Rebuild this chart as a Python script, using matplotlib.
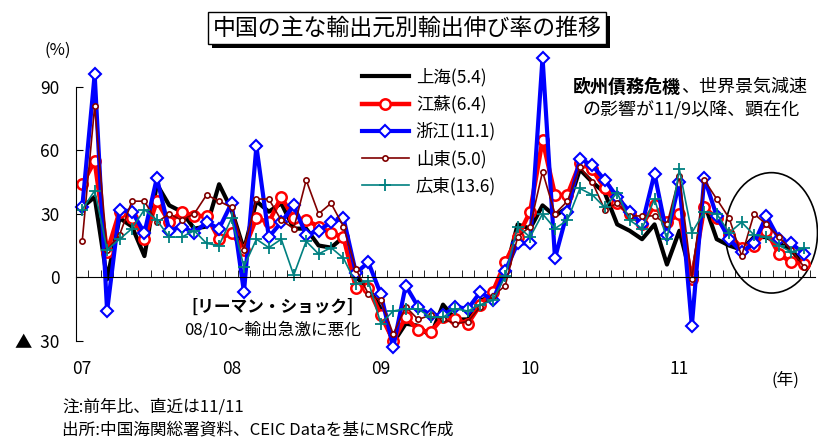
import numpy as np
import matplotlib.pyplot as plt
import matplotlib.patheffects as pe
from matplotlib.patches import Ellipse

plt.rcParams['font.family'] = ['Noto Sans CJK JP', 'DejaVu Sans']

W, H = 818, 442


def fx(px):
    return px / W


def fy(py):
    return 1 - py / H


# monthly, 2007/01 - 2011/11 (y/y %)
SHANGHAI = [33, 38, -1, 28, 24, 10, 44, 34, 31, 23, 24, 44,
            32, 13, 36, 31, 35, 23, 23, 15, 14, 19, 0, -5,
            -15, -31, -22, -23, -28, -13, -20, -20, -11, -9, 2, 25,
            23, 34, 29, 33, 51, 45, 40, 25, 22, 18, 25, 6,
            22, -1, 35, 18, 15, 13, 19, 19, 16, 13, 5.4]
JIANGSU = [44, 55, 12, 31, 28, 18, 36, 26, 31, 29, 29, 18,
           21, 13, 28, 26, 38, 28, 27, 24, 21, 19, -5, -5,
           -18, -30, -19, -25, -26, -19, -20, -22, -13, -7, 7, 19,
           31, 65, 39, 39, 54, 51, 42, 35, 30, 25, 34, 26,
           30, -1, 33, 28, 20, 14, 15, 22, 11, 7, 6.4]
ZHEJIANG = [33, 96, -16, 32, 31, 21, 47, 22, 24, 21, 26, 23,
            35, -7, 62, 19, 26, 34, 20, 22, 26, 28, 2, 7,
            -8, -33, -4, -14, -18, -18, -14, -15, -7, -11, 3, 16,
            16, 104, 9, 31, 56, 53, 46, 38, 31, 25, 49, 20,
            45, -23, 47, 29, 18, 12, 16, 29, 18, 16, 11.1]
SHANDONG = [17, 81, 13, 20, 36, 36, 26, 30, 27, 30, 39, 36,
            33, 13, 37, 37, 27, 23, 46, 30, 35, 24, 4, -8,
            -11, -27, -14, -20, -18, -20, -22, -21, -14, -9, -4, 19,
            24, 50, 30, 36, 52, 45, 32, 35, 29, 29, 29, 25,
            48, -1, 46, 37, 28, 10, 30, 25, 19, 13, 5.0]
GUANGDONG = [32, 41, 13, 18, 23, 32, 27, 19, 19, 22, 16, 15,
             28, 5, 18, 14, 18, 1, 17, 11, 14, 9, -3, -2,
             -22, -16, -15, -15, -19, -19, -15, -16, -13, -11, 0.5, 24,
             19, 30, 23, 27, 42, 39, 33, 40, 27, 23, 37, 18,
             51, 21, 31, 30, 21, 26, 20, 19, 15, 12, 13.6]

LABELS = ['上海(5.4)', '江蘇(6.4)', '浙江(11.1)', '山東(5.0)', '広東(13.6)']
YEARS = ['07', '08', '09', '10', '11']
YEAR_POS = [0, 12, 24, 36, 48]
YTICKS = [-30, 0, 30, 60, 90]
YTICK_LABELS = ['▲  30', '0', '30', '60', '90']

fig = plt.figure(figsize=(8.18, 4.42), dpi=100)
ax = fig.add_axes([fx(76), fy(349), fx(815) - fx(76), (349 - 66) / H])

x = np.arange(len(SHANGHAI))
ax.plot(x, SHANGHAI, color='black', lw=3, label=LABELS[0], clip_on=False)
ax.plot(x, JIANGSU, color='red', lw=3.2, marker='o', ms=7.5, mfc='white',
        mew=1.8, label=LABELS[1], clip_on=False)
ax.plot(x, ZHEJIANG, color='blue', lw=3, marker='D', ms=6.5, mfc='white',
        mew=1.5, label=LABELS[2], clip_on=False)
ax.plot(x, SHANDONG, color='#800000', lw=1.2, marker='o', ms=3.8,
        mfc='white', mew=1.2, label=LABELS[3], clip_on=False)
ax.plot(x, GUANGDONG, color='#008080', lw=1.2, marker='+', ms=8,
        mew=1.3, label=LABELS[4], clip_on=False)

ax.set_xlim(-0.5, 58.9)
ax.set_ylim(-34, 100)

for s in ['top', 'right']:
    ax.spines[s].set_visible(False)
ax.spines['left'].set_bounds(-30, 90)
ax.spines['bottom'].set_position(('data', 0))

ax.set_xticks([])
ax.set_xticks(np.arange(0.5, 59, 1), minor=True)
ax.tick_params(axis='x', which='minor', direction='in', length=5)
ax.set_yticks(YTICKS)
ax.set_yticklabels(YTICK_LABELS)
ax.tick_params(axis='y', direction='in', length=5, labelsize=12.5, pad=12)

for pos, lab in zip(YEAR_POS, YEARS):
    ax.text(pos, -0.07, lab, transform=ax.get_xaxis_transform(),
            ha='center', va='center', fontsize=12.5)
fig.text(fx(785), fy(380), '(年)', ha='center', va='center', fontsize=12)
fig.text(fx(58), fy(50), '(%)', ha='center', va='center', fontsize=12)

leg = ax.legend(loc='upper left', bbox_to_anchor=(fx(362), fy(68)),
                bbox_transform=fig.transFigure, frameon=False, fontsize=12.5,
                handlelength=2.7, handletextpad=0.4, labelspacing=0.5,
                borderpad=0, borderaxespad=0)

ax.add_patch(Ellipse((55.4, 21), 7.4, 57, fill=False, ec='black', lw=1.2,
                     clip_on=False))

ax.text(48.1, 90, '欧州債務危機', fontsize=13, fontweight='bold',
        ha='right', va='center')
ax.text(48.1, 90, '、世界景気減速', fontsize=13, ha='left', va='center')
ax.text(48.9, 79, 'の影響が11/9以降、顕在化', fontsize=13,
        ha='center', va='center')

ax.text(15.3, -14, '[リーマン・ショック]', fontsize=12, fontweight='bold',
        ha='center', va='center')
ax.text(15.3, -25, '08/10～輸出急激に悪化', fontsize=12,
        ha='center', va='center')

title = fig.text(fx(407), fy(28), '中国の主な輸出元別輸出伸び率の推移',
                 fontsize=16.5, ha='center', va='center',
                 bbox=dict(boxstyle='square,pad=0.2', fc='white',
                           ec='black', lw=1))
title.get_bbox_patch().set_path_effects(
    [pe.withSimplePatchShadow(offset=(3, -3), shadow_rgbFace='black', alpha=1)])

fig.text(fx(62), fy(407), '注:前年比、直近は11/11', fontsize=12,
         ha='left', va='center')
fig.text(fx(62), fy(430), '出所:中国海関総署資料、CEIC Dataを基にMSRC作成',
         fontsize=12, ha='left', va='center')

fig.savefig('out.png', dpi=100)
